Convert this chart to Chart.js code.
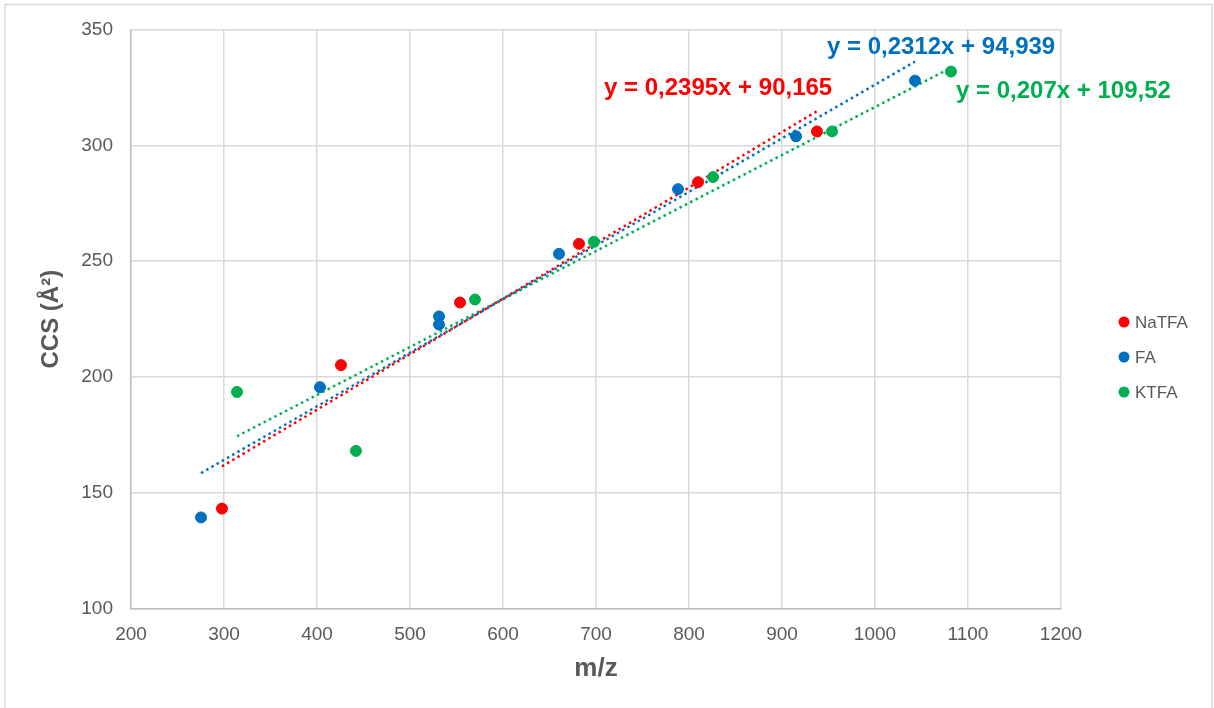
<!DOCTYPE html>
<html>
<head>
<meta charset="utf-8">
<script src="https://cdn.jsdelivr.net/npm/chart.js@4/dist/chart.umd.min.js"></script>
<style>
  html, body { margin: 0; padding: 0; background: #fff; }
  #wrap { width: 1214px; height: 708px; position: relative; }
</style>
</head>
<body>
<div id="wrap"><canvas id="ccs"></canvas></div>
<script>
// 시리즈 이름 / 색상
const seriesNames = ["NaTFA", "FA", "KTFA"];
const seriesColors = ["#FF0000", "#0070C0", "#00B050"];

// m/z 값
const mzNaTFA = [297.8, 425.8, 553.8, 681.7, 809.7, 937.6];
const mzFA = [275.3, 403.2, 531.2, 531.2, 660.2, 788.2, 915.1, 1043.0];
const mzKTFA = [314.0, 441.9, 569.9, 697.8, 825.8, 953.8, 1081.7];

// CCS 값 (Å²)
const ccsNaTFA = [143.3, 205.2, 232.2, 257.5, 284.1, 306.0];
const ccsFA = [139.5, 195.7, 226.2, 222.7, 253.2, 281.1, 303.9, 327.9];
const ccsKTFA = [193.6, 168.2, 233.5, 258.4, 286.3, 306.0, 331.8];

// 추세선 계수 (y = a·x + b)
const slopes = [0.2395, 0.2312, 0.207];
const intercepts = [90.165, 94.939, 109.52];

// 축 눈금
const xTicks = [200, 300, 400, 500, 600, 700, 800, 900, 1000, 1100, 1200];
const yTicks = [100, 150, 200, 250, 300, 350];

const mzAll = [mzNaTFA, mzFA, mzKTFA];
const ccsAll = [ccsNaTFA, ccsFA, ccsKTFA];

// 수식 라벨 위치 (px)
const eqPos = [
  { left: 604, y: 88 },
  { left: 827, y: 47 },
  { left: 956, y: 91 },
];

function fmt(v) {
  return String(v).replace(".", ",");
}
function eqText(i) {
  return `y = ${fmt(slopes[i])}x + ${fmt(intercepts[i])}`;
}

const datasets = [];
// 추세선 (점선)
seriesNames.forEach((name, i) => {
  const xs = mzAll[i];
  const x0 = Math.min(...xs);
  const x1 = Math.max(...xs);
  datasets.push({
    type: "line",
    label: name + " trend",
    data: [
      { x: x0, y: slopes[i] * x0 + intercepts[i] },
      { x: x1, y: slopes[i] * x1 + intercepts[i] },
    ],
    borderColor: seriesColors[i],
    borderWidth: 2.5,
    borderDash: [2.5, 3.5],
    pointRadius: 0,
    fill: false,
    order: 2,
  });
});
// 측정값 (점)
seriesNames.forEach((name, i) => {
  datasets.push({
    type: "scatter",
    label: name,
    data: mzAll[i].map((x, k) => ({ x: x, y: ccsAll[i][k] })),
    backgroundColor: seriesColors[i],
    borderColor: seriesColors[i],
    pointRadius: 5.5,
    pointHoverRadius: 5.5,
    order: 1,
  });
});

// 바깥 테두리 + 범례 + 수식
const decorPlugin = {
  id: "decor",
  beforeDraw(chart) {
    const ctx = chart.ctx;
    ctx.save();
    ctx.fillStyle = "#fff";
    ctx.fillRect(0, 0, chart.width, chart.height);
    ctx.strokeStyle = "#d9d9d9";
    ctx.lineWidth = 1.5;
    ctx.strokeRect(5, 4.5, 1207, 720);
    ctx.restore();
  },
  afterDraw(chart) {
    const ctx = chart.ctx;
    ctx.save();
    // 범례
    ctx.font = "17px 'Liberation Sans', Arial, sans-serif";
    ctx.textBaseline = "middle";
    ctx.textAlign = "left";
    seriesNames.forEach((name, i) => {
      const y = 322 + i * 35;
      ctx.fillStyle = seriesColors[i];
      ctx.beginPath();
      ctx.arc(1124, y, 5.5, 0, Math.PI * 2);
      ctx.fill();
      ctx.fillStyle = "#595959";
      ctx.fillText(name, 1135, y + 1);
    });
    // 추세선 수식
    ctx.font = "bold 24px 'Liberation Sans', Arial, sans-serif";
    seriesNames.forEach((name, i) => {
      ctx.fillStyle = seriesColors[i];
      ctx.fillText(eqText(i), eqPos[i].left, eqPos[i].y);
    });
    ctx.restore();
  },
};

const canvas = document.getElementById("ccs");
canvas.width = 1214;
canvas.height = 708;

new Chart(canvas, {
  data: { datasets: datasets },
  options: {
    responsive: false,
    animation: false,
    layout: { padding: { left: 0, top: 26, right: 153, bottom: 0 } },
    plugins: {
      legend: { display: false },
      tooltip: { enabled: false },
    },
    scales: {
      x: {
        type: "linear",
        min: 200,
        max: 1200,
        afterBuildTicks(scale) {
          scale.ticks = xTicks.map((v) => ({ value: v }));
        },
        afterFit(scale) {
          scale.height = 99;
        },
        grid: { color: "#d9d9d9", lineWidth: 1.5, drawTicks: false },
        border: { color: "#bfbfbf", width: 1.5 },
        ticks: {
          color: "#595959",
          font: { family: "'Liberation Sans', Arial, sans-serif", size: 19 },
          padding: 14,
          maxRotation: 0,
          callback: (v) => String(v),
        },
        title: {
          display: true,
          text: "m/z",
          color: "#595959",
          font: { family: "'Liberation Sans', Arial, sans-serif", size: 26, weight: "bold" },
          padding: { top: 0, bottom: 24 },
        },
      },
      y: {
        type: "linear",
        min: 100,
        max: 350,
        afterBuildTicks(scale) {
          scale.ticks = yTicks.map((v) => ({ value: v }));
        },
        afterFit(scale) {
          scale.width = 131;
        },
        grid: { color: "#d9d9d9", lineWidth: 1.5, drawTicks: false },
        border: { color: "#bfbfbf", width: 1.5 },
        ticks: {
          color: "#595959",
          font: { family: "'Liberation Sans', Arial, sans-serif", size: 19 },
          padding: 18,
          callback: (v) => String(v),
        },
        title: {
          display: true,
          text: "CCS (Å²)",
          color: "#595959",
          font: { family: "'Liberation Sans', Arial, sans-serif", size: 24, weight: "bold" },
          padding: { top: 37, bottom: 0 },
        },
      },
    },
  },
  plugins: [decorPlugin],
});
</script>
</body>
</html>
